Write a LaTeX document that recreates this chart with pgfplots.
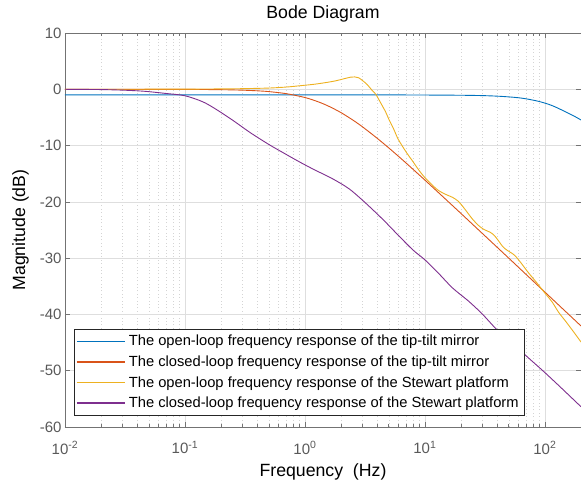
\documentclass[border=0pt]{standalone}
\usepackage{pgfplots}
\pgfplotsset{compat=1.18}
\usepackage{fontspec}
\setmainfont{Liberation Sans}
\definecolor{mblue}{RGB}{0,114,189}
\definecolor{mred}{RGB}{217,83,25}
\definecolor{myellow}{RGB}{237,177,32}
\definecolor{mpurple}{RGB}{126,47,142}
\begin{document}
\begin{tikzpicture}
\begin{axis}[
  at={(0pt,0pt)}, anchor=south west,
  scale only axis, width=516pt, height=394pt,
  xmode=log, xmin=0.01, xmax=200, ymin=-60, ymax=10,
  xtick={0.01,0.1,1,10,100},
  xticklabels={10\textsuperscript{-2},10\textsuperscript{-1},10\textsuperscript{0},10\textsuperscript{1},10\textsuperscript{2}},
  minor xtick={0.02,0.03,0.04,0.05,0.06,0.07,0.08,0.09,0.2,0.3,0.4,0.5,0.6,0.7,0.8,0.9,2,3,4,5,6,7,8,9,20,30,40,50,60,70,80,90,200},
  ytick={-60,-50,-40,-30,-20,-10,0,10},
  grid=both,
  major grid style={draw=black!13, line width=0.6pt},
  minor grid style={draw=black!17, dash pattern=on 0.7pt off 2.7pt, line width=0.5pt},
  axis line style={draw=black!55, line width=0.7pt},
  tick style={draw=black!55, line width=0.6pt},
  tick align=inside,
  major tick length=5pt, minor tick length=3pt,
  tick label style={font=\fontsize{15}{18}\selectfont, text=black!65},
  xticklabel style={yshift=-11pt},
  /pgf/number format/assume math mode=true,
  title={Bode Diagram},
  title style={font=\fontsize{17.7}{20}\selectfont, at={(axis description cs:0.5,1)}, anchor=base, yshift=8.5pt},
  xlabel={Frequency~~(Hz)}, ylabel={Magnitude (dB)},
  label style={font=\fontsize{17.7}{20}\selectfont},
  xlabel style={at={(axis description cs:0.5,0)}, anchor=base, yshift=-49.7pt},
  ylabel shift=4pt,
  legend cell align=left,
  legend style={at={(0.01744,0.0292)}, anchor=south west, draw=black!85, fill=white,
    font=\fontsize{14.7}{17}\selectfont, inner xsep=2pt, inner ysep=2pt, row sep=0pt,
    nodes={inner ysep=4.2pt, inner xsep=3.5pt}},
  legend image code/.code={\draw[#1, line width=1.2pt] (0pt,0pt) -- (48pt,0pt);},
  every axis plot/.append style={line width=0.9pt},
]
\addplot[mblue, smooth] coordinates {(0.01,-1.0)(0.1,-1.0)(1,-1.0)(5,-1.0)(10,-1.02)(20,-1.06)(30,-1.12)(40,-1.22)(50,-1.35)(60,-1.5)(70,-1.7)(85,-2.05)(100,-2.45)(115,-2.9)(130,-3.4)(145,-3.9)(160,-4.35)(180,-4.9)(200,-5.45)};
\addlegendentry{The open-loop frequency response of the tip-tilt mirror}
\addplot[mred, smooth] coordinates {(0.01,0)(0.03,-0.002)(0.05,-0.004)(0.1,-0.017)(0.2,-0.07)(0.3,-0.155)(0.4,-0.27)(0.5,-0.41)(0.7,-0.78)(1,-1.46)(1.3,-2.25)(1.6,-3.07)(2,-4.15)(2.5,-5.45)(3,-6.63)(4,-8.7)(5,-10.42)(6,-11.88)(7,-13.14)(8,-14.26)(10,-16.13)(15,-19.6)(20,-22.07)(30,-25.58)(50,-30.0)(70,-32.93)(100,-36.03)(150,-39.55)(200,-42.05)};
\addlegendentry{The closed-loop frequency response of the tip-tilt mirror}
\addplot[myellow, smooth] coordinates {(0.01,0)(0.03,0.01)(0.1,0.03)(0.2,0.07)(0.3,0.11)(0.5,0.22)(0.7,0.4)(0.9,0.62)(1.2,0.9)(1.5,1.2)(1.8,1.5)(2.1,1.85)(2.4,2.15)(2.6,2.2)(2.8,2.05)(3.0,1.6)(3.3,0.85)(3.6,-0.1)(3.9,-0.9)(4.3,-2.5)(4.7,-4.0)(5.0,-5.3)(5.5,-7.1)(6.0,-8.9)(7.0,-11.2)(7.8,-12.6)(9,-14.5)(10,-15.7)(11.5,-17.0)(13,-18.0)(15,-18.7)(17,-19.2)(19,-19.9)(21,-21.0)(23,-22.1)(25,-23.1)(28,-24.2)(31,-24.9)(35,-25.4)(38,-26.0)(41,-26.9)(44,-27.8)(47,-28.4)(51,-28.9)(56,-29.5)(63,-30.8)(73,-32.6)(85,-34.3)(100,-36.2)(115,-37.8)(130,-39.6)(150,-41.3)(175,-43.2)(200,-44.9)};
\addlegendentry{The open-loop frequency response of the Stewart platform}
\addplot[mpurple, smooth] coordinates {(0.01,0)(0.02,-0.05)(0.03,-0.15)(0.04,-0.27)(0.05,-0.42)(0.07,-0.75)(0.1,-1.15)(0.14,-2.2)(0.18,-3.5)(0.25,-5.5)(0.35,-7.7)(0.5,-9.8)(0.65,-11.2)(0.9,-12.9)(1.2,-14.3)(1.7,-15.9)(2.34,-17.7)(3.2,-20.2)(4.5,-23.2)(6.1,-26.1)(8,-28.6)(10,-30.3)(13,-32.7)(17,-35.3)(23,-37.6)(30,-39.9)(41,-43.0)(55,-45.3)(71,-47.5)(95,-49.9)(130,-52.6)(200,-56.4)};
\addlegendentry{The closed-loop frequency response of the Stewart platform}
\end{axis}
\pgfresetboundingbox
\path[use as bounding box] (-65pt,-58pt) rectangle (516pt,427pt);
\end{tikzpicture}
\end{document}
